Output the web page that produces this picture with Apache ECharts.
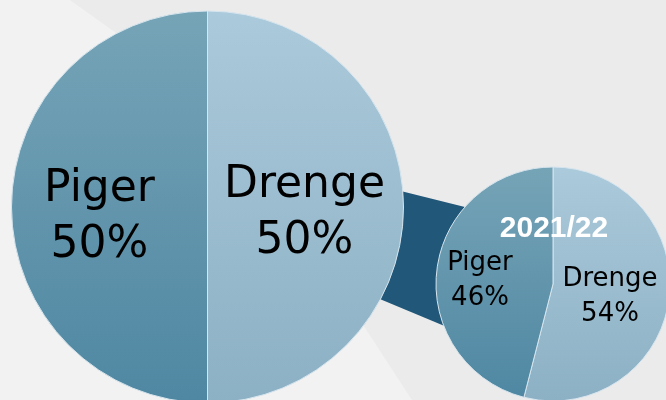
<!DOCTYPE html>
<html>
<head>
<meta charset="utf-8">
<script src="https://cdn.jsdelivr.net/npm/echarts@6/dist/echarts.min.js"></script>
<style>html,body{margin:0;padding:0;background:#ebebeb;}#c{width:666px;height:400px;}</style>
</head>
<body>
<div id="c"></div>
<script>
// ---- data ----
var categories = ['Drenge', 'Piger'];
var totalValues = [50, 50];          // large pie (overall)
var yearValues = [54, 46];           // small pie 2021/22
var yearLabel = '2021/22';

// ---- layout ----
var bigC = [207.5, 207], bigR = 196;
var smallC = [553, 284], smallR = 117;
// label nudges [dx, dy] per category
var bigNudge = {Drenge: [-4, 7], Piger: [-7, 11]};
var smallNudge = {Drenge: [-4, 5], Piger: [-12, 4]};

function grad(top, bottom) {
  return new echarts.graphic.LinearGradient(0, 0, 0, 1, [
    {offset: 0, color: top}, {offset: 1, color: bottom}
  ]);
}
var colors = {
  Drenge: function () { return grad('#abcadb', '#8cb0c4'); },
  Piger: function () { return grad('#76a4b7', '#4f87a2'); }
};

function buildData(values) {
  return categories.map(function (name, i) {
    return {name: name, value: values[i], itemStyle: {color: colors[name]()}};
  });
}
function nudger(table) {
  return function (params) {
    var n = table[categories[params.dataIndex]];
    return {dx: n[0], dy: n[1]};
  };
}

// connector band (decoration between the two pies)
function bandPoints() {
  var x1 = bigC[0] + 92, x2 = smallC[0] - 33;
  function topY(x) { return 192 + 0.25 * (x - 405); }
  function botY(x) { return 300 + 0.417 * (x - 382); }
  return [[x1, topY(x1)], [x2, topY(x2)], [x2, botY(x2)], [x1, botY(x1)]];
}

var chart = echarts.init(document.getElementById('c'), null, {renderer: 'canvas'});
chart.setOption({
  backgroundColor: '#ebebeb',
  animation: false,
  graphic: [
    {type: 'polygon', z: 0, silent: true,
     shape: {points: [[0,0],[70,0],[140,50],[360,320],[412,400],[0,400]]},
     style: {fill: '#f2f2f2'}},
    {type: 'polygon', z: 1, silent: true,
     shape: {points: bandPoints()},
     style: {fill: '#215779'}},
    {type: 'text', z: 100, silent: true,
     x: smallC[0] + 1, y: 229,
     style: {text: yearLabel, fill: '#ffffff', font: 'bold 30px "Liberation Sans", Arial, sans-serif',
             textAlign: 'center', textVerticalAlign: 'middle'}}
  ],
  series: [
    {
      type: 'pie', z: 2,
      center: bigC, radius: [0, bigR],
      startAngle: 90, clockwise: true,
      itemStyle: {borderColor: '#d6e5ee', borderWidth: 1},
      label: {
        position: 'inside', color: '#000',
        fontFamily: 'DejaVu Sans', fontSize: 44, lineHeight: 56,
        formatter: '{b}\n{c}%'
      },
      labelLayout: nudger(bigNudge),
      labelLine: {show: false},
      emphasis: {disabled: true},
      data: buildData(totalValues)
    },
    {
      type: 'pie', z: 3,
      center: smallC, radius: [0, smallR],
      startAngle: 90, clockwise: true,
      itemStyle: {borderColor: '#d6e5ee', borderWidth: 1},
      label: {
        position: 'inside', color: '#000',
        fontFamily: 'DejaVu Sans', fontSize: 26, lineHeight: 35,
        formatter: '{b}\n{c}%'
      },
      labelLayout: nudger(smallNudge),
      labelLine: {show: false},
      emphasis: {disabled: true},
      data: buildData(yearValues)
    }
  ]
});
</script>
</body>
</html>
